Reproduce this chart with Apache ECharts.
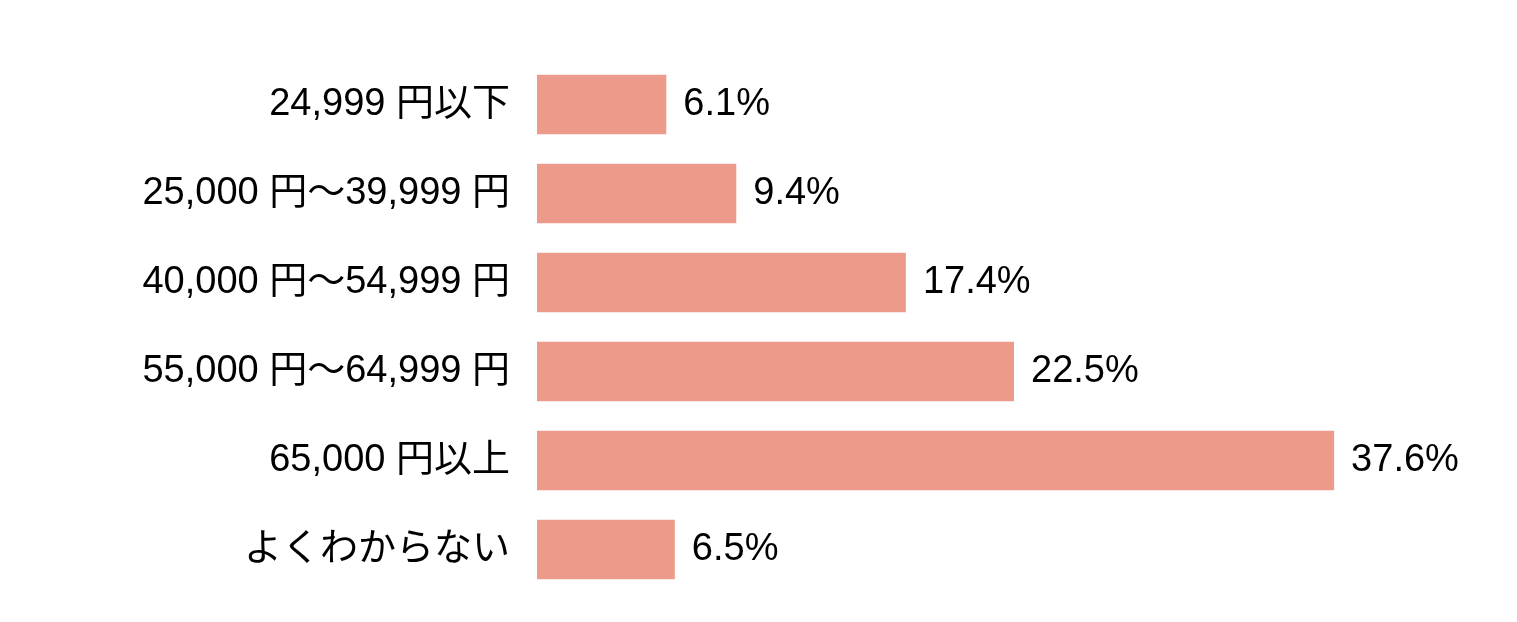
<!DOCTYPE html>
<html>
<head>
<meta charset="utf-8">
<style>
  html, body { margin: 0; padding: 0; background: #fff; }
  #chart { width: 1517px; height: 622px; }
</style>
<script src="https://cdn.jsdelivr.net/npm/echarts@6/dist/echarts.min.js"></script>
</head>
<body>
<div id="chart"></div>
<script>
// 区分（上から順）
var categories = ['24,999 円以下', '25,000 円～39,999 円', '40,000 円～54,999 円', '55,000 円～64,999 円', '65,000 円以上', 'よくわからない'];
// 割合 (%)
var shares = [6.1, 9.4, 17.4, 22.5, 37.6, 6.5];

var chart = echarts.init(document.getElementById('chart'));

var option = {
    backgroundColor: '#ffffff',
    animation: false,
    grid: { left: 537, right: 132, top: 60, bottom: 28, containLabel: false },
    xAxis: {
        type: 'value',
        min: 0,
        max: 40,
        show: false
    },
    yAxis: {
        type: 'category',
        inverse: true,
        data: categories,
        axisLine: { show: false },
        axisTick: { show: false },
        splitLine: { show: false },
        axisLabel: {
            margin: 27,
            color: '#000',
            fontSize: 38,
            fontFamily: '"Liberation Sans", "Noto Sans CJK JP"'
        }
    },
    series: [{
        type: 'bar',
        data: shares,
        barCategoryGap: '33%',
        itemStyle: { color: '#EC9B8B' },
        label: {
            show: true,
            position: 'right',
            distance: 17,
            color: '#000',
            fontSize: 38,
            fontFamily: '"Liberation Sans", "Noto Sans CJK JP"',
            formatter: function (p) { return p.value.toFixed(1) + '%'; }
        }
    }]
};

chart.setOption(option);
</script>
</body>
</html>
